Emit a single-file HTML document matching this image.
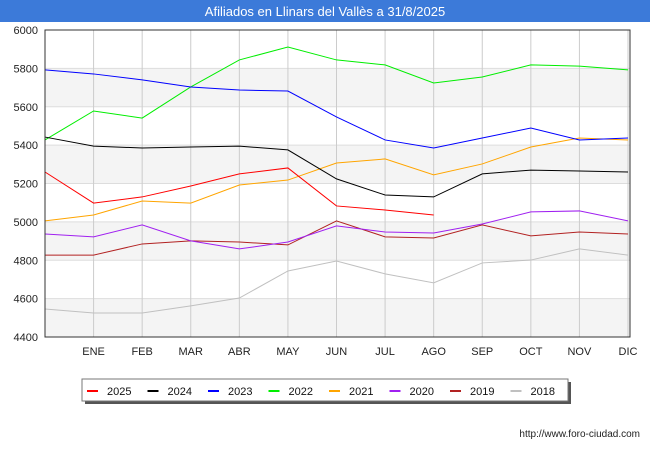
<!DOCTYPE html>
<html><head><meta charset="utf-8"><style>
body{margin:0;width:650px;height:450px;background:#fff;font-family:"Liberation Sans",sans-serif;overflow:hidden}
</style></head><body>
<svg width="650" height="450" font-family="Liberation Sans, sans-serif">
<rect x="0" y="0" width="650" height="22" fill="#3c7ad9"/>
<text x="325" y="16" text-anchor="middle" fill="#fff" font-size="13">Afiliados en Llinars del Vallès a 31/8/2025</text>
<g id="bands"></g><g id="grid"></g><g id="axes"></g><g id="series"></g>
<rect x="45" y="30" width="585" height="307" fill="none" stroke="#333"/>
<rect x="85" y="382" width="486" height="22" fill="#555"/>
<rect x="82" y="379" width="486" height="22" fill="#fff" stroke="#777"/>
<g id="legend"></g>
<text x="640" y="437" text-anchor="end" font-size="10" fill="#222">http://www.foro-ciudad.com</text>
</svg>
<script>
const months=["","ENE","FEB","MAR","ABR","MAY","JUN","JUL","AGO","SEP","OCT","NOV","DIC"];
const yTicks=[4400,4600,4800,5000,5200,5400,5600,5800,6000];
const years=["2025","2024","2023","2022","2021","2020","2019","2018"];
const colors=["#ff0000","#000000","#0000ff","#00ee00","#ffa500","#a020f0","#b22222","#c0c0c0"];
const s2025=[5260,5098,5130,5187,5250,5281,5083,5062,5036];
const s2024=[5442,5395,5385,5390,5395,5375,5224,5140,5130,5250,5270,5265,5260];
const s2023=[5792,5771,5740,5703,5687,5682,5547,5427,5385,5437,5489,5427,5437];
const s2022=[5427,5578,5541,5703,5844,5911,5844,5818,5724,5755,5818,5812,5792];
const s2021=[5005,5036,5109,5098,5192,5218,5307,5328,5245,5302,5390,5437,5427];
const s2020=[4937,4922,4984,4901,4859,4895,4979,4947,4942,4989,5052,5057,5005];
const s2019=[4827,4827,4885,4901,4895,4880,5005,4922,4916,4984,4927,4947,4937];
const s2018=[4546,4525,4525,4562,4603,4744,4796,4729,4682,4786,4801,4859,4827];
const series=[s2025,s2024,s2023,s2022,s2021,s2020,s2019,s2018];
const NS="http://www.w3.org/2000/svg";
const X=i=>45+i*(583/12), Y=v=>337-(v-4400)/1600*307;
function mk(t,a,p){const e=document.createElementNS(NS,t);for(const k in a)e.setAttribute(k,a[k]);p.appendChild(e);return e;}
const bands=document.getElementById('bands'),grid=document.getElementById('grid'),axes=document.getElementById('axes'),sg=document.getElementById('series'),lg=document.getElementById('legend');
for(let i=0;i<yTicks.length-1;i+=2){const b=mk('rect',{x:45,y:Y(yTicks[i+1]),width:585,height:Y(yTicks[i])-Y(yTicks[i+1]),fill:'#f4f4f4'},bands);

}
yTicks.forEach(v=>{const l=mk('line',{x1:45,x2:630,y1:Y(v),y2:Y(v),stroke:'#ddd'},grid);


const t=mk('text',{x:38,y:Y(v)+4,'text-anchor':'end','font-size':11,fill:'#222'},axes);t.textContent=v;

});
months.forEach((m,i)=>{if(!m)return;const l=mk('line',{x1:X(i),x2:X(i),y1:30,y2:337,stroke:'#ccc'},grid);


const t=mk('text',{x:X(i),y:355,'text-anchor':'middle','font-size':11,fill:'#222'},axes);t.textContent=m;

});
for(let k=series.length-1;k>=0;k--){const p=mk('polyline',{points:series[k].map((v,i)=>X(i)+','+Y(v)).join(' '),fill:'none',stroke:colors[k],'stroke-width':1},sg);

}
years.forEach((y,k)=>{const x=87+k*60.5;const l=mk('line',{x1:x,x2:x+11,y1:391,y2:391,stroke:colors[k],'stroke-width':2},lg);


const t=mk('text',{x:x+20,y:395,'font-size':11,fill:'#111'},lg);t.textContent=y;

});
</script>
</body></html>
